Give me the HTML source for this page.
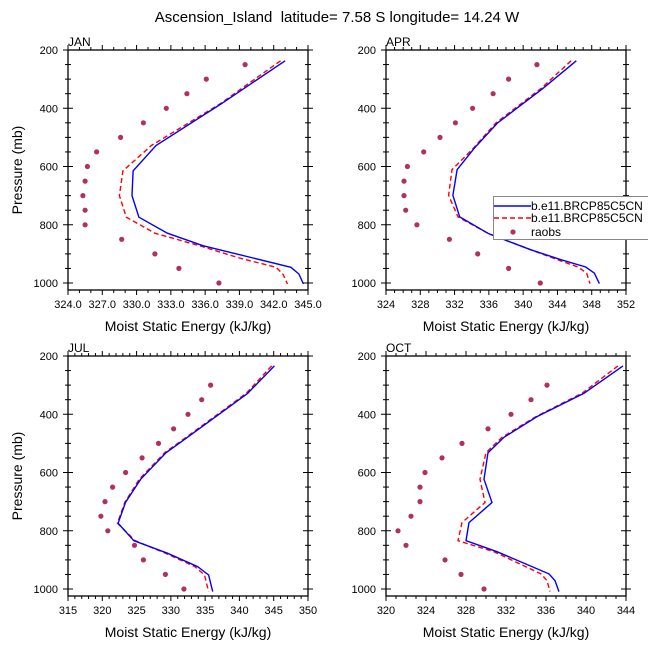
<!DOCTYPE html>
<html><head><meta charset="utf-8"><style>
body{margin:0;background:#fff;}
svg text{font-family:"Liberation Sans",sans-serif;}
</style></head><body>
<svg id="fig" width="648" height="649" viewBox="0 0 648 649" xmlns="http://www.w3.org/2000/svg">
<text x="337" y="22" font-size="15" text-anchor="middle" style="white-space:pre">Ascension_Island  latitude= 7.58 S longitude= 14.24 W</text>
</svg>
<script>
// ---- data ----
const panelNames = ["JAN","APR","JUL","OCT"];
const xMins = [324, 324, 315, 320];
const xMaxs = [345, 352, 350, 344];
const xMajorSteps = [3, 4, 5, 4];
const janP = [237,385,528,615,700,774,829,872,914,946,969,1003];
const janBlue = [343.0,337.4,331.7,329.7,329.6,330.2,332.7,335.8,340.2,343.5,344.2,344.6];
const janRed  = [342.6,337.3,331.3,328.8,328.5,329.1,331.6,335.5,339.0,342.2,342.8,343.2];
const aprP = [237,332,451,537,611,699,773,831,886,920,945,966,1002];
const aprBlue = [346.2,342.3,337.0,334.3,332.3,331.8,332.6,336.0,340.9,344.4,347.3,348.3,348.9];
const aprRed  = [345.6,342.1,336.8,334.2,331.7,331.3,332.4,336.0,340.9,344.0,346.4,347.4,347.8];
const julP = [234,328,385,483,532,623,702,774,834,877,923,952,1009];
const julBlue = [345.1,341.2,337.9,332.2,329.3,325.6,323.4,322.3,324.6,329.5,333.9,335.5,336.1];
const julRed  = [344.7,341.0,337.7,332.0,329.1,325.4,323.3,322.2,324.8,329.2,333.5,334.9,335.5];
const octP = [234,328,408,479,532,623,703,772,834,872,948,971,1009];
const octBlue = [343.7,339.8,335.1,331.8,330.2,329.8,330.6,328.3,328.0,331.1,336.3,336.9,337.3];
const octRed  = [343.2,339.6,335.0,331.6,330.0,329.4,329.9,327.6,327.2,330.8,335.5,336.1,336.4];
const obsP = [250,300,350,400,450,500,550,600,650,700,750,800,850,900,950,1000];
const janObs = [339.5,336.1,334.4,332.6,330.6,328.6,326.5,325.7,325.5,325.3,325.5,325.5,328.7,331.6,333.7,337.2];
const aprObs = [341.6,338.3,336.5,334.1,332.1,330.3,328.4,326.5,326.1,326.1,326.3,327.6,331.4,334.7,338.3,342.0];
const julObs = [null,335.8,334.5,332.5,330.4,328.2,325.8,323.4,321.5,320.4,319.8,320.8,324.7,326.0,329.2,331.9];
const octObs = [null,336.1,334.5,332.5,330.2,327.6,325.6,323.9,323.4,323.4,322.5,321.2,322.0,325.9,327.5,329.8];
const yTicks = [200,400,600,800,1000];

const allP=[janP,aprP,julP,octP], allBlue=[janBlue,aprBlue,julBlue,octBlue], allRed=[janRed,aprRed,julRed,octRed], allObs=[janObs,aprObs,julObs,octObs];
const NS="http://www.w3.org/2000/svg";
const svg=document.getElementById('fig');
function mk(tag,attrs,parent){const e=document.createElementNS(NS,tag);for(const k in attrs)e.setAttribute(k,attrs[k]);(parent||svg).appendChild(e);return e;}
const boxes=[[68,50],[386,50],[68,356],[386,356]];
const W=240,H=240,pMin=200,pMax=1024;
for(let i=0;i<4;i++){
  const [L,T]=boxes[i];
  const g=mk('g',{});
  
  
  const xs=v=>L+(v-xMins[i])/(xMaxs[i]-xMins[i])*W;
  const ys=p=>T+(p-pMin)/(pMax-pMin)*H;
  const mkLine=(vals,col,dash,name)=>{
    const pts=allP[i].map((p,j)=>xs(vals[j]).toFixed(1)+','+ys(p).toFixed(1)).join(' ');
    const pl=mk('polyline',{points:pts,fill:'none',stroke:col,'stroke-width':1.4},g);
    if(dash)pl.setAttribute('stroke-dasharray',dash);
    
    
  };
  mkLine(allRed[i],'#ff0000','5,3','red-dashed-series');
  mkLine(allBlue[i],'#0000ff',null,'blue-solid-series');
  allObs[i].forEach((v,j)=>{ if(v===null)return;
    const c=mk('circle',{cx:xs(v).toFixed(1),cy:ys(obsP[j]).toFixed(1),r:2.6,fill:'#b03060'},g);
    
    
  });
  if(i===1){
    const lg=mk('g',{},svg);
    
    
    mk('rect',{x:493.5,y:196.5,width:160,height:43,fill:'#fff',stroke:'#888','stroke-width':1},lg);
    mk('line',{x1:494,y1:206,x2:531,y2:206,stroke:'#0000ff','stroke-width':1.4},lg);
    mk('line',{x1:494,y1:218,x2:531,y2:218,stroke:'#ff0000','stroke-width':1.4,'stroke-dasharray':'5,3'},lg);
    mk('circle',{cx:513,cy:232,r:2.6,fill:'#b03060'},lg);
    const t1=mk('text',{x:531,y:210,'font-size':12},lg);t1.textContent='b.e11.BRCP85C5CN';
    const t2=mk('text',{x:531,y:222,'font-size':12},lg);t2.textContent='b.e11.BRCP85C5CN';
    const t3=mk('text',{x:531,y:236,'font-size':12},lg);t3.textContent='raobs';
  }
  const fr=mk('rect',{x:L,y:T,width:W,height:H,fill:'none',stroke:'#000','stroke-width':1.3},g);
  
  
  for(let v=xMins[i];v<=xMaxs[i]+1e-6;v+=1){
    const major=((v-xMins[i])%xMajorSteps[i])===0;
    const x=xs(v), len=major?5:3;
    mk('line',{x1:x,y1:T+H,x2:x,y2:T+H+len,stroke:'#000','stroke-width':1},g);
    mk('line',{x1:x,y1:T,x2:x,y2:T-len,stroke:'#000','stroke-width':1},g);
    if(major){
      const t=mk('text',{x:x,y:T+H+18,'font-size':11,'text-anchor':'middle'},g);
      
      
      t.textContent=(i===0)?v.toFixed(1):String(v);
    }
  }
  for(let p=200;p<=1000;p+=50){
    const major=(p%200)===0, y=ys(p), len=major?5:3;
    mk('line',{x1:L-len,y1:y,x2:L+len,y2:y,stroke:'#000','stroke-width':1},g);
    mk('line',{x1:L+W-len,y1:y,x2:L+W+len,y2:y,stroke:'#000','stroke-width':1},g);
  }
  yTicks.forEach(p=>{
    const t=mk('text',{x:L-10,y:ys(p)+4,'font-size':11,'text-anchor':'end'},g);
    
    
    t.textContent=String(p);
  });
  const pl=mk('text',{x:L,y:T-4,'font-size':12},g);
  
  
  pl.textContent=panelNames[i];
  const xt=mk('text',{x:L+W/2,y:T+H+41,'font-size':14,'text-anchor':'middle'},g);
  
  
  xt.textContent='Moist Static Energy (kJ/kg)';
  if(i%2===0){
    const yt=mk('text',{x:0,y:0,'font-size':14,'text-anchor':'middle',transform:'translate(22,'+(T+H/2)+') rotate(-90)'},g);
    
    
    yt.textContent='Pressure (mb)';
  }
}
</script>
</body></html>
